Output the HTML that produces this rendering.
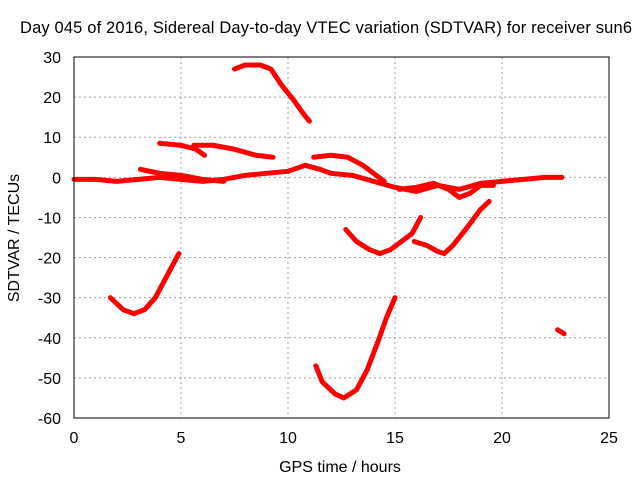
<!DOCTYPE html>
<html><head><meta charset="utf-8"><style>
body{margin:0;background:#fff}
svg{display:block;font-family:"Liberation Sans",sans-serif}
</style></head><body>
<svg id="chart" width="640" height="480">
<rect width="640" height="480" fill="#fff"/>
<g id="grid"></g>
<g id="series"></g>
<rect x="74" y="57" width="535" height="361" fill="none" stroke="#000" stroke-width="1"/>
<g id="ticks"></g>
<text x="326" y="33" text-anchor="middle" font-size="16.5" textLength="612">Day 045 of 2016, Sidereal Day-to-day VTEC variation (SDTVAR) for receiver sun6</text>
<text x="340" y="472" text-anchor="middle" font-size="16">GPS time / hours</text>
<text transform="translate(19,238) rotate(-90)" text-anchor="middle" font-size="16">SDTVAR / TECUs</text>
</svg>
<script>
const xTicks=[0,5,10,15,20,25];
const yTicks=[30,20,10,0,-10,-20,-30,-40,-50,-60];
const seg1=[[0,-0.5],[1,-0.5],[2,-1],[3,-0.5],[4,0],[5,-0.5],[6,-1],[7,-0.5],[8,0.5],[9,1],[10,1.5],[10.8,3],[11.5,2],[12,1],[13,0.5],[14,-1],[15,-2.5],[16,-3.5],[17,-2],[18,-3],[19,-1.5],[20,-1],[21,-0.5],[22,0],[22.8,0]];
const seg1b=[[3.1,2],[4,1],[5,0.5],[6,-0.5],[7,-1]];
const seg2=[[7.5,27],[8,28],[8.7,28],[9.2,27],[9.7,23],[10.3,19],[10.7,16],[11,14]];
const seg3=[[4,8.5],[5,8],[5.7,7],[6.1,5.5]];
const seg3b=[[5.6,8],[6.5,8],[7.5,7],[8.5,5.5],[9.3,5]];
const seg4=[[11.2,5],[12,5.5],[12.8,5],[13.5,3],[14,1],[14.5,-1]];
const seg5=[[1.7,-30],[2.3,-33],[2.8,-34],[3.3,-33],[3.8,-30],[4.3,-25],[4.9,-19]];
const seg6=[[12.7,-13],[13.2,-16],[13.8,-18],[14.3,-19],[14.8,-18],[15.3,-16],[15.8,-14],[16.2,-10]];
const seg7=[[15.9,-16],[16.5,-17],[17,-18.5],[17.3,-19],[17.7,-17],[18.3,-13],[19,-8],[19.4,-6]];
const seg8=[[11.3,-47],[11.6,-51],[12.2,-54],[12.6,-55],[13.2,-53],[13.7,-48],[14.2,-41],[14.6,-35],[15,-30]];
const seg9=[[22.6,-38],[22.9,-39]];
const seg10=[[15.2,-3],[16,-2.5],[16.8,-1.5],[17.5,-3],[18,-5],[18.5,-4],[19,-2],[19.6,-2]];
const segments=[seg1,seg1b,seg2,seg3,seg3b,seg4,seg5,seg6,seg7,seg8,seg9,seg10];
const X=t=>74+t*(535/25);
const Y=v=>57+(30-v)*(361/90);
const NS="http://www.w3.org/2000/svg";
const grid=document.getElementById('grid'),ticks=document.getElementById('ticks'),ser=document.getElementById('series');
function mk(tag,attrs,parent){const e=document.createElementNS(NS,tag);for(const k in attrs)e.setAttribute(k,attrs[k]);parent.appendChild(e);return e;}
xTicks.forEach(t=>{
  if(t>0&&t<25){const g=mk('line',{x1:X(t),x2:X(t),y1:57,y2:418,stroke:'#a0a0a0','stroke-dasharray':'2,3'},grid);
  
  }
  const l=mk('text',{x:X(t),y:443,'text-anchor':'middle','font-size':16},ticks);
  
  
  l.textContent=t;
});
yTicks.forEach(v=>{
  if(v<30&&v>-60){const g=mk('line',{x1:74,x2:609,y1:Y(v),y2:Y(v),stroke:'#a0a0a0','stroke-dasharray':'2,3'},grid);
  
  }
  const l=mk('text',{x:61,y:Y(v)+6,'text-anchor':'end','font-size':16},ticks);
  
  
  l.textContent=v;
});
segments.forEach(s=>{
  const p=mk('polyline',{points:s.map(d=>X(d[0])+','+Y(d[1])).join(' '),fill:'none',stroke:'#ff0000','stroke-width':5,'stroke-linejoin':'round','stroke-linecap':'round'},ser);
  
  
});
</script>
</body></html>
